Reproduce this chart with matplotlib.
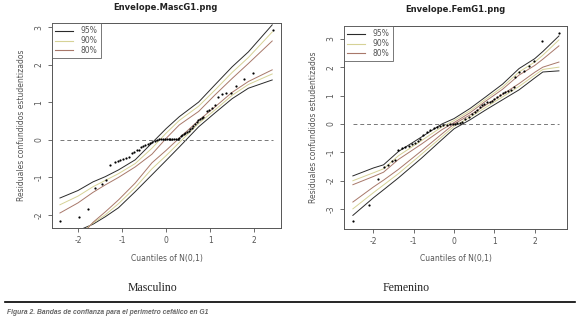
import matplotlib.pyplot as plt

plt.rcParams["axes.unicode_minus"] = False

# --- Masculino: studentized residuals vs N(0,1) quantiles ---
masc_q = [-2.41, -1.98, -1.77, -1.61, -1.46, -1.36, -1.27, -1.17, -1.10, -1.05,
          -0.98, -0.91, -0.85, -0.78, -0.73, -0.67, -0.62, -0.57, -0.52, -0.47,
          -0.42, -0.36, -0.31, -0.26, -0.21, -0.16, -0.11, -0.06, -0.02, 0.02,
          0.06, 0.10, 0.14, 0.18, 0.22, 0.26, 0.30, 0.33, 0.36, 0.40,
          0.43, 0.47, 0.51, 0.55, 0.58, 0.62, 0.66, 0.70, 0.73, 0.77,
          0.81, 0.85, 0.92, 0.97, 1.04, 1.11, 1.19, 1.28, 1.36, 1.47,
          1.58, 1.76, 1.98, 2.42]
masc_r = [-2.16, -2.06, -1.85, -1.28, -1.17, -1.07, -0.67, -0.60, -0.57, -0.53,
          -0.50, -0.47, -0.45, -0.36, -0.32, -0.28, -0.26, -0.20, -0.16, -0.13,
          -0.10, -0.07, -0.05, -0.02, 0.00, 0.02, 0.03, 0.03, 0.02, 0.02,
          0.02, 0.02, 0.02, 0.02, 0.02, 0.03, 0.06, 0.10, 0.13, 0.16,
          0.18, 0.22, 0.25, 0.28, 0.31, 0.37, 0.43, 0.48, 0.53, 0.56,
          0.59, 0.62, 0.78, 0.80, 0.84, 0.93, 1.14, 1.23, 1.24, 1.26,
          1.45, 1.62, 1.78, 2.93]

masc_env_q = [-2.41, -2.0, -1.66, -1.38, -1.08, -0.7, -0.32, 0.0, 0.3, 0.74, 1.11, 1.5, 1.87, 2.41]
masc_up95 = [-1.55, -1.35, -1.12, -0.98, -0.80, -0.53, -0.08, 0.30, 0.62, 1.01, 1.47, 1.95, 2.35, 3.07]
masc_up90 = [-1.73, -1.50, -1.25, -1.08, -0.90, -0.63, -0.22, 0.18, 0.52, 0.90, 1.33, 1.80, 2.20, 2.88]
masc_up80 = [-1.95, -1.68, -1.40, -1.20, -1.00, -0.72, -0.38, 0.04, 0.40, 0.76, 1.20, 1.64, 2.04, 2.64]
masc_lo95 = [-2.90, -2.42, -2.25, -2.05, -1.81, -1.38, -0.93, -0.55, -0.19, 0.35, 0.72, 1.10, 1.38, 1.60]
masc_lo90 = [-2.95, -2.55, -2.22, -2.00, -1.70, -1.27, -0.77, -0.42, -0.07, 0.44, 0.80, 1.19, 1.48, 1.76]
masc_lo80 = [-3.00, -2.65, -2.20, -1.92, -1.60, -1.15, -0.61, -0.28, 0.05, 0.52, 0.88, 1.27, 1.56, 1.87]

# --- Femenino ---
fem_q = [-2.51, -2.10, -1.89, -1.75, -1.63, -1.55, -1.46, -1.38, -1.30, -1.22,
         -1.13, -1.05, -0.97, -0.90, -0.84, -0.76, -0.68, -0.60, -0.51, -0.43,
         -0.35, -0.27, -0.18, -0.10, -0.03, 0.02, 0.08, 0.14, 0.20, 0.28,
         0.36, 0.45, 0.51, 0.57, 0.65, 0.70, 0.74, 0.82, 0.88, 0.94,
         1.00, 1.07, 1.15, 1.21, 1.27, 1.34, 1.40, 1.48, 1.52, 1.61,
         1.73, 1.85, 1.98, 2.17, 2.60]
fem_r = [-3.43, -2.87, -1.93, -1.51, -1.43, -1.31, -1.26, -0.90, -0.85, -0.82,
         -0.78, -0.72, -0.66, -0.59, -0.52, -0.40, -0.28, -0.20, -0.14, -0.11,
         -0.08, -0.05, -0.02, 0.00, 0.01, 0.01, 0.02, 0.04, 0.07, 0.16,
         0.25, 0.36, 0.42, 0.48, 0.60, 0.66, 0.72, 0.78, 0.79, 0.80,
         0.88, 0.95, 1.03, 1.08, 1.13, 1.16, 1.19, 1.30, 1.66, 1.83,
         1.86, 2.04, 2.21, 2.92, 3.22]

fem_env_q = [-2.51, -2.0, -1.75, -1.38, -0.82, -0.3, 0.0, 0.4, 0.78, 1.2, 1.61, 2.0, 2.2, 2.6]
fem_up95 = [-1.83, -1.55, -1.44, -0.97, -0.47, 0.00, 0.19, 0.55, 0.95, 1.40, 1.95, 2.30, 2.55, 3.10]
fem_up90 = [-2.00, -1.72, -1.58, -1.12, -0.60, -0.10, 0.12, 0.47, 0.87, 1.30, 1.83, 2.18, 2.42, 2.96]
fem_up80 = [-2.14, -1.85, -1.70, -1.25, -0.72, -0.20, 0.05, 0.40, 0.80, 1.22, 1.72, 2.06, 2.28, 2.75]
fem_lo95 = [-3.22, -2.60, -2.32, -1.90, -1.22, -0.55, -0.17, 0.15, 0.49, 0.85, 1.20, 1.62, 1.83, 1.87]
fem_lo90 = [-2.99, -2.42, -2.15, -1.75, -1.08, -0.45, -0.08, 0.24, 0.58, 0.95, 1.32, 1.72, 1.92, 2.00]
fem_lo80 = [-2.75, -2.22, -1.98, -1.60, -0.96, -0.35, 0.00, 0.32, 0.66, 1.04, 1.42, 1.82, 2.00, 2.18]

levels = ["95%", "90%", "80%"]
colors = ["#2a2a2a", "#d6d296", "#a8786a"]
grey = "#555555"

W, H = 580, 322
fig = plt.figure(figsize=(W / 100, H / 100), dpi=100)


def panel(box, q, r, eq, ups, los, xlim, ylim, xticks, yticks, title, title_xy, ylab_x):
    l, t, r_, b = box
    ax = fig.add_axes([l / W, 1 - b / H, (r_ - l) / W, (b - t) / H])
    for up, lo, c in zip(ups, los, colors):
        ax.plot(eq, up, color=c, lw=0.7)
        ax.plot(eq, lo, color=c, lw=0.7)
    ax.plot([q[0], q[-1]], [0, 0], color="#777777", lw=0.7, ls=(0, (4, 3)))
    ax.plot(q, r, "o", color="black", ms=1.6, mew=0)
    ax.set_xlim(xlim)
    ax.set_ylim(ylim)
    ax.set_xticks(xticks)
    ax.set_yticks(yticks)
    ax.tick_params(colors=grey, labelsize=5.5, length=3, width=0.6, pad=3)
    for lab in ax.get_yticklabels():
        lab.set_rotation(90)
        lab.set_va("center")
    for s in ax.spines.values():
        s.set_color(grey)
        s.set_linewidth(0.7)
    handles = [plt.Line2D([], [], color=c, lw=0.8) for c in colors]
    leg = ax.legend(handles, levels, loc="upper left", fontsize=5.5, frameon=True,
                    fancybox=False, borderaxespad=0, handlelength=2.3,
                    labelspacing=0.1, borderpad=0.45, handletextpad=1.0)
    leg.get_frame().set_edgecolor(grey)
    leg.get_frame().set_linewidth(0.7)
    for txt in leg.get_texts():
        txt.set_color(grey)
    fig.text(title_xy[0] / W, 1 - title_xy[1] / H, title, ha="center", va="center",
             fontsize=6.0, fontweight="bold", color="#222222")
    fig.text(ylab_x / W, 1 - (t + b) / 2 / H, "Residuales confundidos estudentizados",
             rotation=90, ha="center", va="center", fontsize=5.5, color=grey)
    fig.text(((l + r_) / 2) / W, 1 - 259 / H, "Cuantiles of N(0,1)", ha="center",
             va="center", fontsize=5.5, color=grey)
    return ax


panel((52, 23, 281, 228), masc_q, masc_r, masc_env_q,
      [masc_up95, masc_up90, masc_up80], [masc_lo95, masc_lo90, masc_lo80],
      (-2.59, 2.61), (-2.35, 3.12), [-2, -1, 0, 1, 2], [-2, -1, 0, 1, 2, 3],
      "Envelope.MascG1.png", (165, 7), 22)

panel((344, 26, 567, 229), fem_q, fem_r, fem_env_q,
      [fem_up95, fem_up90, fem_up80], [fem_lo95, fem_lo90, fem_lo80],
      (-2.73, 2.80), (-3.70, 3.45), [-2, -1, 0, 1, 2], [-3, -2, -1, 0, 1, 2, 3],
      "Envelope.FemG1.png", (455, 10), 313)

fig.text(152 / W, 1 - 288 / H, "Masculino", ha="center", va="center",
         fontsize=8.5, family="Liberation Serif", color="#222222")
fig.text(406 / W, 1 - 288 / H, "Femenino", ha="center", va="center",
         fontsize=8.5, family="Liberation Serif", color="#222222")
fig.add_artist(plt.Line2D([5 / W, 575 / W], [1 - 302 / H, 1 - 302 / H],
                          color="black", lw=1.2))
fig.text(7 / W, 1 - 313 / H, "Figura 2. Bandas de confianza para el perimetro cefálico en G1",
         ha="left", va="center", fontsize=4.9, style="italic", fontweight="bold",
         family=["Liberation Sans Narrow", "Liberation Sans"], color="#666666")

fig.savefig("out.png", dpi=100)
